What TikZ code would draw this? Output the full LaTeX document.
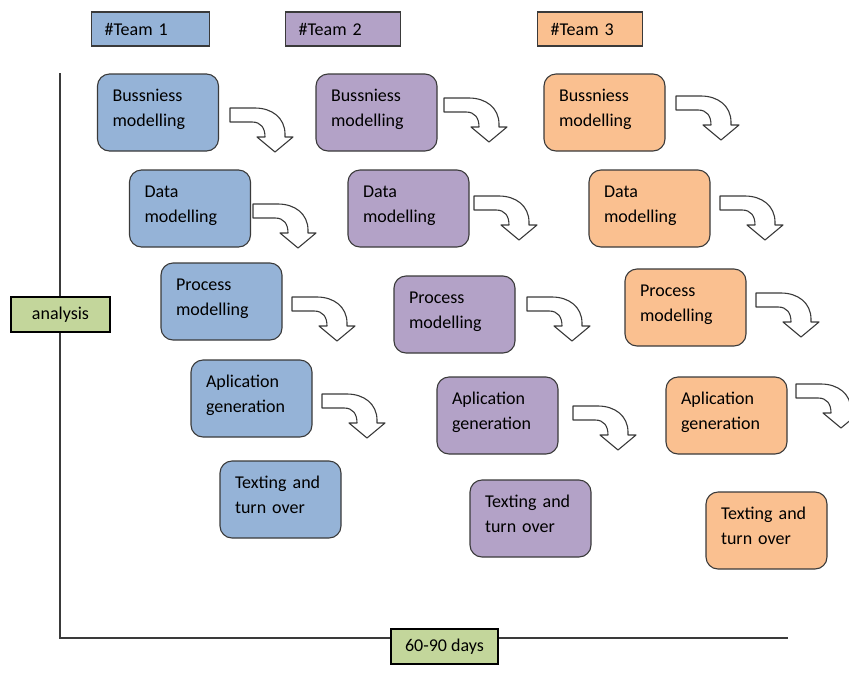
\documentclass[tikz,border=0pt]{standalone}
\usepackage{fontspec}
\setmainfont{Carlito}
\usepackage{xcolor}
\usepackage{tikz}
\usetikzlibrary{positioning}

\definecolor{teamblue}{HTML}{95B3D7}
\definecolor{teampurple}{HTML}{B3A2C7}
\definecolor{teamorange}{HTML}{FAC090}
\definecolor{axisgreen}{HTML}{C3D69B}
\definecolor{edgegray}{HTML}{3A3A3A}

\newcommand{\lowtext}{\rule[-9pt]{0pt}{0pt}}

\tikzset{
   stagebox/.style={draw=edgegray, line width=1.1pt, fill=#1, rounded corners=12pt,
      minimum width=121pt, minimum height=77pt, text width=91pt, inner xsep=15pt,
      align=left},
   teambox/.style={draw=edgegray, line width=1.1pt, fill=#1, minimum height=34pt,
      inner xsep=13pt, anchor=west},
   greenbox/.style={draw=black, line width=1.1pt, fill=axisgreen, minimum height=35pt},
   bent/.pic={
      \draw[edgegray, line width=1.1pt, fill=white, line join=round]
         (0,0) -- (25,0) .. controls (42,0) and (55,10) .. (55,26) -- (55,29)
         -- (63,29) -- (45,44) -- (27,29) -- (35,29)
         .. controls (35,20) and (31,14) .. (22,14) -- (0,14) -- cycle;
   }
}

\begin{document}
\begin{tikzpicture}[x=1pt, y=-1pt, font=\fontsize{18}{25}\selectfont]
   \path[use as bounding box, clip] (0,0) rectangle (849,673);

   % team headers
   \node[teambox=teamblue, minimum width=118pt, text width=92pt] (team1) at (91,29) {\#Team 1};
   \node[teambox=teampurple, minimum width=115pt, text width=89pt] (team2) at (285,29) {\#Team 2};
   \node[teambox=teamorange, minimum width=105pt, text width=79pt] (team3) at (537,29) {\#Team 3};

   % axes
   \coordinate (ytop) at (60,73);
   \coordinate (origin) at (60,638);
   \coordinate (xend) at (788,638);
   \draw[edgegray, line width=1.1pt] (ytop) -- (origin) -- (xend);
   \node[greenbox, minimum width=99pt] (analysis) at (60.5,314.5) {analysis};
   \node[greenbox, minimum width=107pt] (days) at (444.5,646.5) {60-90 days};

   % team 1
   \node[stagebox=teamblue] (b1) at (158,112.5) {Bussniess\\modelling\lowtext};
   \node[stagebox=teamblue] (d1) at (190,208.5) {Data\\modelling\lowtext};
   \node[stagebox=teamblue] (p1) at (221.5,301.5) {Process\\modelling\lowtext};
   \node[stagebox=teamblue] (a1) at (251.5,398.5) {Aplication\\generation\lowtext};
   \node[stagebox=teamblue] (t1) at (280.5,499.5) {Texting and\\turn over\lowtext};

   % team 2
   \node[stagebox=teampurple] (b2) at (376.5,112.5) {Bussniess\\modelling\lowtext};
   \node[stagebox=teampurple] (d2) at (408.5,208.5) {Data\\modelling\lowtext};
   \node[stagebox=teampurple] (p2) at (454.5,314.5) {Process\\modelling\lowtext};
   \node[stagebox=teampurple] (a2) at (497.5,415.5) {Aplication\\generation\lowtext};
   \node[stagebox=teampurple] (t2) at (530.5,518.5) {Texting and\\turn over\lowtext};

   % team 3
   \node[stagebox=teamorange] (b3) at (604.5,112.5) {Bussniess\\modelling\lowtext};
   \node[stagebox=teamorange] (d3) at (649.5,208.5) {Data\\modelling\lowtext};
   \node[stagebox=teamorange] (p3) at (685.5,307.5) {Process\\modelling\lowtext};
   \node[stagebox=teamorange] (a3) at (726.5,415.5) {Aplication\\generation\lowtext};
   \node[stagebox=teamorange] (t3) at (766.5,530.5) {Texting and\\turn over\lowtext};

   % step arrows
   \pic at (230,108) {bent};
   \pic at (253,204) {bent};
   \pic at (292,297) {bent};
   \pic at (322,394) {bent};
   \pic at (444,98) {bent};
   \pic at (474,196) {bent};
   \pic at (527,297) {bent};
   \pic at (573,406) {bent};
   \pic at (676,96) {bent};
   \pic at (720,196) {bent};
   \pic at (756,293) {bent};
   \pic at (796,384) {bent};
\end{tikzpicture}
\end{document}
